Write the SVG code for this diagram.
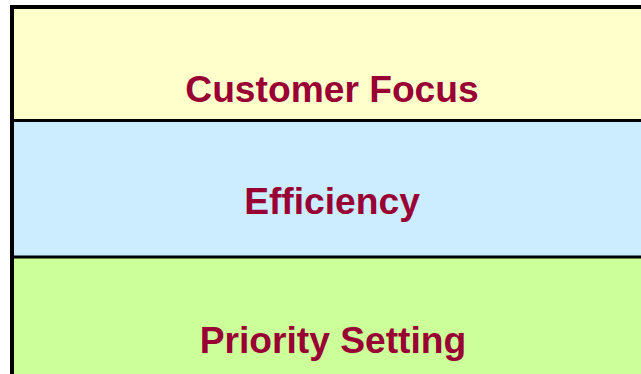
<svg xmlns="http://www.w3.org/2000/svg" width="641" height="374" viewBox="0 0 641 374">
<style>
.lbl{font-family:"Liberation Sans",Arial,sans-serif;font-weight:bold;font-size:37.2px;fill:#990033;text-anchor:middle}
.div{stroke:#000;stroke-width:2.8}
</style>
<rect width="641" height="374" fill="#fff"/>
<g id="customer-focus">
<rect x="12" y="7" width="640" height="113.5" fill="#FFFFCC"/>
<text class="lbl" x="332" y="102">Customer Focus</text>
</g>
<g id="efficiency">
<rect x="12" y="120.5" width="640" height="136.5" fill="#CCECFF"/>
<text class="lbl" x="332" y="214">Efficiency</text>
</g>
<g id="priority-setting">
<rect x="12" y="257" width="640" height="130" fill="#CCFF99"/>
<text class="lbl" x="333" y="353">Priority Setting</text>
</g>
<g id="lines">
<line class="div" x1="12" y1="120.5" x2="641" y2="120.5"/>
<line class="div" x1="12" y1="257" x2="641" y2="257"/>
<path d="M12,380 V7 H660" fill="none" stroke="#000" stroke-width="4"/>
</g>
</svg>
